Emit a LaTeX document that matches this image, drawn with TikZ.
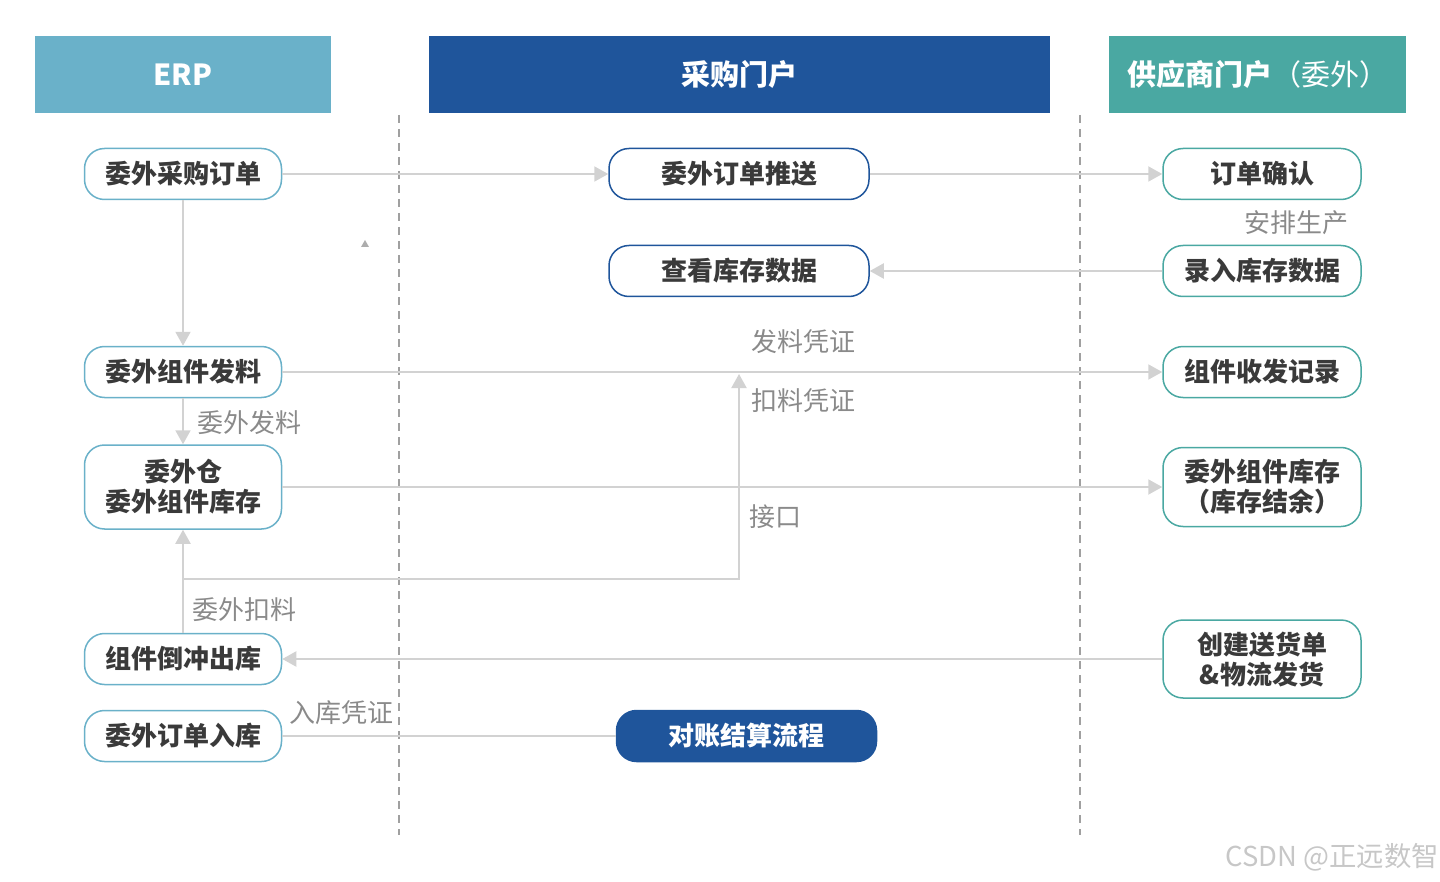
\documentclass[tikz,border=0pt]{standalone}
\usepackage{fontspec}
\setmainfont{Noto Sans CJK SC}
\usetikzlibrary{arrows.meta}

\definecolor{erpblue}{RGB}{106,177,201}
\definecolor{portalblue}{RGB}{31,85,155}
\definecolor{supteal}{RGB}{74,168,162}
\definecolor{linegray}{RGB}{210,210,210}
\definecolor{dashgray}{RGB}{160,160,160}
\definecolor{txtdark}{RGB}{58,58,58}
\definecolor{lblgray}{RGB}{138,138,138}

\begin{document}
\begin{tikzpicture}[x=0.5pt,y=-0.5pt,
  hdr/.style={minimum height=38.5pt, inner sep=0pt, text=white, font=\fontsize{14.5}{16}\selectfont},
  box/.style={line width=0.75pt, rounded corners=10pt, fill=white, minimum height=25.5pt, inner sep=0pt, align=center, text=txtdark, font=\fontsize{13}{15}\selectfont\bfseries},
  erpbox/.style={box, draw=erpblue, minimum width=98.5pt},
  midbox/.style={box, draw=portalblue, minimum width=130pt},
  supbox/.style={box, draw=supteal, minimum width=99pt},
  conn/.style={draw=linegray, line width=1pt},
  arr/.style={conn, -{Triangle[length=7pt,width=7.5pt]}},
  lbl/.style={anchor=west, inner sep=0pt, text=lblgray, font=\fontsize{13}{15}\selectfont}]
\useasboundingbox (0,0) rectangle (1440,882);

% Headers
\node[hdr, fill=erpblue, minimum width=148pt] (erp) at (183,74.5) {\bfseries ERP};
\node[hdr, fill=portalblue, minimum width=310.5pt] (portal) at (739.5,74.5) {\bfseries 采购门户};
\node[hdr, fill=supteal, minimum width=148.5pt] (supplier) at (1257.5,74.5) {{\bfseries 供应商门户}（委外）};

% Lane separators
\draw[dashgray, line width=0.75pt, dash pattern={on 4pt off 3pt}] (399,115) -- (399,835);
\draw[dashgray, line width=0.75pt, dash pattern={on 4pt off 3pt}] (1080,115) -- (1080,835);

% ERP column
\node[erpbox] (caigou) at (183,174) {委外采购订单};
\node[erpbox] (fali) at (183,372) {委外组件发料};
\node[erpbox, minimum height=42pt] (cang) at (183,487) {委外仓\\委外组件库存};
\node[erpbox] (daochong) at (183,659) {组件倒冲出库};
\node[erpbox] (ruku) at (183,736) {委外订单入库};

% Portal column
\node[midbox] (tuisong) at (739,174) {委外订单推送};
\node[midbox] (chakan) at (739,271) {查看库存数据};
\node[midbox, fill=portalblue, draw=portalblue, text=white] (duizhang) at (746.5,736) {对账结算流程};

% Supplier column
\node[supbox] (queren) at (1262,174) {订单确认};
\node[supbox] (luru) at (1262,271) {录入库存数据};
\node[supbox] (shoufa) at (1262,372) {组件收发记录};
\node[supbox, minimum height=39.5pt] (jieyu) at (1262,487) {委外组件库存\\（库存结余）};
\node[supbox, minimum height=39pt] (songhuo) at (1262,659) {创建送货单\\\&物流发货};

% Connectors
\coordinate (kou) at (183,579);
\coordinate (kouend) at (739,374);
\draw[arr] (caigou) -- (tuisong);
\draw[arr] (tuisong) -- (queren);
\draw[arr] (luru) -- (chakan);
\draw[arr] (caigou) -- (fali);
\draw[arr] (fali) -- (shoufa);
\draw[arr] (fali) -- (cang);
\draw[arr] (cang) -- (jieyu);
\draw[arr] (daochong) -- (cang);
\draw[arr] (kou) -| (kouend);
\draw[arr] (songhuo) -- (daochong);
\draw[conn] (ruku) -- (duizhang);
\fill[lblgray!70] (361,247) -- (369,247) -- (365,240) -- cycle;

% Labels
\node[lbl] (lfafuo) at (197,423) {委外发料};
\node[lbl] (lkouliao) at (192,610) {委外扣料};
\node[lbl] (lfapz) at (751,342) {发料凭证};
\node[lbl] (lkoupz) at (751,401) {扣料凭证};
\node[lbl] (ljiekou) at (749,517) {接口};
\node[lbl] (lanpai) at (1244,223) {安排生产};
\node[lbl] (lrupz) at (289,713) {入库凭证};
\node[lbl, text=black!22, font=\fontsize{13.7}{15}\selectfont] (wm) at (1225,857) {CSDN @正远数智};

\end{tikzpicture}
\end{document}
